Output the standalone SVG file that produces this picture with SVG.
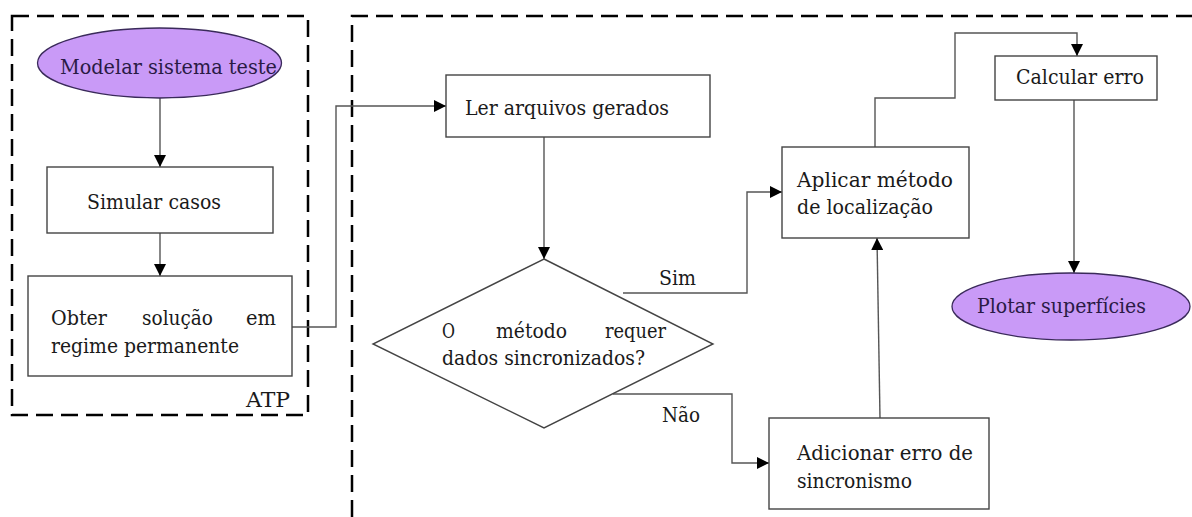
<svg xmlns="http://www.w3.org/2000/svg" width="1192" height="517" viewBox="0 0 1192 517">
<defs>
<style>
.frame{fill:none;stroke:#000;stroke-width:2.5;stroke-dasharray:17 8}
.box{fill:#fff;stroke:#444;stroke-width:1.4}
.oval{fill:#c99af7;stroke:#3a2a5a;stroke-width:1.3}
.conn{fill:none;stroke:#555;stroke-width:1.4}
.t{font-family:"DejaVu Serif","Liberation Serif",serif;font-size:21px;fill:#1a1a1a}
.tp{fill:#2a1a45}
</style>
<marker id="ah" viewBox="0 0 12 12" refX="12" refY="6" markerWidth="12" markerHeight="12" markerUnits="userSpaceOnUse" orient="auto">
<path d="M0,0 L12,6 L0,12 z" fill="#000"/>
</marker>
</defs>
<rect width="1192" height="517" fill="#fff"/>

<g id="frames">
<rect class="frame" x="12" y="16" width="296" height="399"/>
<path class="frame" d="M352,517 V16 H1192"/>
</g>

<g id="connectors">
<path class="conn" d="M160,98 V167" marker-end="url(#ah)"/>
<path class="conn" d="M160,233 V276" marker-end="url(#ah)"/>
<path class="conn" d="M292,327 H336 V106 H446" marker-end="url(#ah)"/>
<path class="conn" d="M544,137 V259" marker-end="url(#ah)"/>
<path class="conn" d="M623,293 H747 V192 H782" marker-end="url(#ah)"/>
<path class="conn" d="M613,394 H732 V463 H769" marker-end="url(#ah)"/>
<path class="conn" d="M880,418 L877,238" marker-end="url(#ah)"/>
<path class="conn" d="M875,147 V98 H955 V33 H1077 V56" marker-end="url(#ah)"/>
<path class="conn" d="M1074,100 V273" marker-end="url(#ah)"/>
</g>

<g id="label-sim"><text class="t" x="659" y="285" textLength="37" lengthAdjust="spacingAndGlyphs">Sim</text></g>
<g id="label-nao"><text class="t" x="662" y="422" textLength="38" lengthAdjust="spacingAndGlyphs">Não</text></g>
<g id="label-atp"><text class="t" x="246" y="407" textLength="44" lengthAdjust="spacingAndGlyphs">ATP</text></g>

<g id="modelar">
<ellipse class="oval" cx="159.5" cy="63" rx="122" ry="35"/>
<text class="t tp" x="60" y="74" textLength="217" lengthAdjust="spacingAndGlyphs">Modelar sistema teste</text>
</g>

<g id="simular">
<rect class="box" x="47" y="167" width="226" height="66"/>
<text class="t" x="87" y="209" textLength="134" lengthAdjust="spacingAndGlyphs">Simular casos</text>
</g>

<g id="obter">
<rect class="box" x="28" y="276" width="264" height="100"/>
<text class="t" x="51" y="325" textLength="56" lengthAdjust="spacingAndGlyphs">Obter</text>
<text class="t" x="142" y="325" textLength="71" lengthAdjust="spacingAndGlyphs">solução</text>
<text class="t" x="246" y="325" textLength="30" lengthAdjust="spacingAndGlyphs">em</text>
<text class="t" x="51" y="353" textLength="188" lengthAdjust="spacingAndGlyphs">regime permanente</text>
</g>

<g id="ler">
<rect class="box" x="446" y="75" width="264" height="62"/>
<text class="t" x="465" y="115" textLength="204" lengthAdjust="spacingAndGlyphs">Ler arquivos gerados</text>
</g>

<g id="decisao">
<polygon class="box" points="544,259 713,344 544,428 373,344"/>
<text class="t" x="442" y="338" textLength="13" lengthAdjust="spacingAndGlyphs">O</text>
<text class="t" x="496" y="338" textLength="71" lengthAdjust="spacingAndGlyphs">método</text>
<text class="t" x="605" y="338" textLength="61" lengthAdjust="spacingAndGlyphs">requer</text>
<text class="t" x="442" y="365" textLength="203" lengthAdjust="spacingAndGlyphs">dados sincronizados?</text>
</g>

<g id="aplicar">
<rect class="box" x="782" y="147" width="187" height="91"/>
<text class="t" x="797" y="187" textLength="156" lengthAdjust="spacingAndGlyphs">Aplicar método</text>
<text class="t" x="797" y="214" textLength="136" lengthAdjust="spacingAndGlyphs">de localização</text>
</g>

<g id="adicionar">
<rect class="box" x="769" y="418" width="220" height="91"/>
<text class="t" x="797" y="460" textLength="176" lengthAdjust="spacingAndGlyphs">Adicionar erro de</text>
<text class="t" x="797" y="488" textLength="115" lengthAdjust="spacingAndGlyphs">sincronismo</text>
</g>

<g id="calcular">
<rect class="box" x="995" y="56" width="162" height="44"/>
<text class="t" x="1016" y="84" textLength="128" lengthAdjust="spacingAndGlyphs">Calcular erro</text>
</g>

<g id="plotar">
<ellipse class="oval" cx="1071" cy="306.5" rx="119" ry="33.5"/>
<text class="t tp" x="977" y="313" textLength="169" lengthAdjust="spacingAndGlyphs">Plotar superfícies</text>
</g>
</svg>
